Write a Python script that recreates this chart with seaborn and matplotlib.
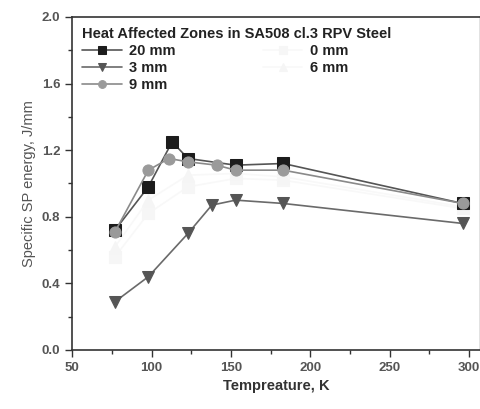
import numpy as np
import pandas as pd
import matplotlib
matplotlib.use("Agg")
import matplotlib.pyplot as plt
from matplotlib.ticker import MultipleLocator
import seaborn as sns

sns.set_style("ticks")
plt.rcParams['font.family'] = ['Liberation Sans', 'DejaVu Sans']
plt.rcParams['font.weight'] = 'bold'

# data
temp_20 = [77, 98, 113, 123, 153, 183, 296]
sp_20 = [0.72, 0.98, 1.25, 1.15, 1.11, 1.12, 0.88]
temp_0 = [77, 98, 123, 153, 183, 296]
sp_0 = [0.56, 0.82, 0.98, 1.03, 1.02, 0.85]
temp_3 = [77, 98, 123, 138, 153, 183, 296]
sp_3 = [0.29, 0.44, 0.70, 0.87, 0.90, 0.88, 0.76]
temp_6 = [77, 98, 123, 153, 183, 296]
sp_6 = [0.62, 0.90, 1.05, 1.06, 1.04, 0.86]
temp_9 = [77, 98, 111, 123, 141, 153, 183, 296]
sp_9 = [0.71, 1.08, 1.15, 1.13, 1.11, 1.08, 1.08, 0.88]

series = [
    ("20 mm", temp_20, sp_20, "s", "#1c1c1c", "#555555"),
    ("3 mm", temp_3, sp_3, "v", "#555555", "#6a6a6a"),
    ("9 mm", temp_9, sp_9, "o", "#9a9a9a", "#8a8a8a"),
    ("0 mm", temp_0, sp_0, "s", "#f6f6f6", "#f8f8f8"),
    ("6 mm", temp_6, sp_6, "^", "#f5f5f5", "#f8f8f8"),
]

fig = plt.figure(figsize=(4.81, 4.09), dpi=100)
ax = fig.add_axes([0.150, 0.1443, 0.848, 0.8142])

# draw faint series first so the dark ones sit on top
for name, t, v, m, c, lc in series[3:] + series[:3]:
    df = pd.DataFrame({"T": t, "E": v})
    sns.lineplot(data=df, x="T", y="E", ax=ax, color=lc, linewidth=1.2,
                 marker=m, markersize=8, markerfacecolor=c,
                 markeredgecolor=c, label=name, zorder=3)

ax.set_xlim(50, 307)
ax.set_ylim(0, 2.0)
ax.xaxis.set_major_locator(MultipleLocator(50))
ax.xaxis.set_minor_locator(MultipleLocator(25))
ax.yaxis.set_major_locator(MultipleLocator(0.4))
ax.yaxis.set_minor_locator(MultipleLocator(0.2))
ax.yaxis.set_major_formatter(plt.FormatStrFormatter('%.1f'))
ax.tick_params(which='major', length=5, width=1, color='#333333',
               labelsize=9.5, labelcolor='#555555')
ax.tick_params(which='minor', length=3, width=1, color='#333333')
for lab in ax.get_xticklabels() + ax.get_yticklabels():
    lab.set_fontweight('bold')
for s in ax.spines.values():
    s.set_color('#333333')
    s.set_linewidth(1.2)
ax.spines['right'].set_color('#dddddd')

ax.set_xlabel("Tempreature, K", fontsize=10.5, color='#333333', fontweight='bold')
ax.set_ylabel("Specific SP energy, J/mm", fontsize=10.5, color='#555555',
              fontweight='normal')

h, l = ax.get_legend_handles_labels()
order = ["20 mm", "3 mm", "9 mm", "0 mm", "6 mm"]
hh = [h[l.index(o)] for o in order]
leg = ax.legend(hh, order, ncol=2, loc='upper left', bbox_to_anchor=(0.0, 1.0),
                frameon=False, title="Heat Affected Zones in SA508 cl.3 RPV Steel",
                fontsize=10.5, title_fontsize=10.5, handlelength=2.7,
                markerscale=0.7, columnspacing=6.0, labelspacing=0.2,
                borderaxespad=0.3, handletextpad=0.5)
leg._legend_box.align = "left"
leg.get_title().set_fontweight('bold')
leg.get_title().set_color('#222222')
for txt in leg.get_texts():
    txt.set_color('#222222')

fig.savefig("out.png", dpi=100)
